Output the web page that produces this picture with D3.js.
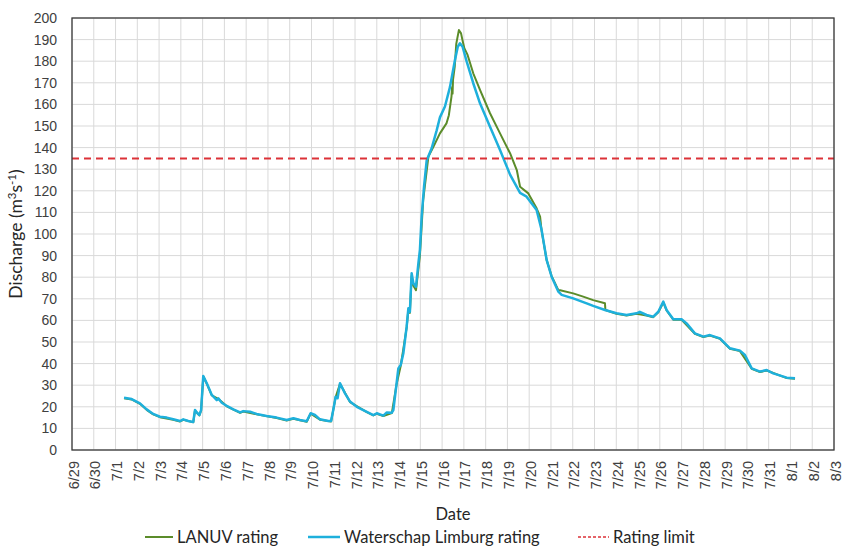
<!DOCTYPE html>
<html>
<head>
<meta charset="utf-8">
<script src="https://cdn.jsdelivr.net/npm/d3@7"></script>
<style>
  body { margin: 0; background: #fff; }
  svg { font-family: Lato, "Open Sans", sans-serif; }
  .grid line { stroke: #d9d9d9; stroke-width: 1; }
  .tick text { fill: #404040; }
</style>
</head>
<body>
<div id="chart"></div>
<script>
// [day of July (fractional), discharge m3/s]
const waterschap = [
  [1.39, 24.2], [1.74, 23.6], [2.12, 21.6], [2.43, 18.8], [2.73, 16.7], [3.04, 15.4],
  [3.35, 15.0], [3.65, 14.2], [3.96, 13.4], [4.11, 14.2], [4.34, 13.4], [4.57, 13.0],
  [4.65, 18.5], [4.76, 17.0], [4.85, 16.2], [4.93, 18.5], [5.03, 34.3], [5.19, 30.9],
  [5.42, 25.5], [5.65, 23.1], [5.72, 23.9], [5.88, 21.9], [6.11, 20.4], [6.41, 18.8],
  [6.72, 17.4], [6.87, 18.0], [7.18, 17.7], [7.48, 16.7], [7.94, 15.7], [8.40, 15.0],
  [8.86, 13.9], [9.17, 14.7], [9.47, 13.9], [9.78, 13.3], [9.96, 17.0], [10.16, 16.2],
  [10.39, 14.2], [10.77, 13.4], [10.90, 13.4], [11.0, 18.5], [11.11, 24.7], [11.20, 24.0],
  [11.31, 30.9], [11.54, 26.2], [11.77, 22.4], [12.08, 20.0], [12.54, 17.7], [12.84, 16.2],
  [13.0, 17.0], [13.30, 15.9], [13.46, 17.4], [13.69, 17.3], [13.76, 18.5], [13.91, 30.9],
  [13.99, 37.8], [14.10, 39.4], [14.22, 44.8], [14.37, 57.0], [14.45, 65.6], [14.52, 64.0],
  [14.60, 81.8], [14.68, 77.2], [14.80, 75.6], [14.91, 86.4], [14.98, 92.6], [15.06, 108],
  [15.17, 121.9], [15.29, 134], [15.52, 139.7], [15.75, 148], [15.90, 154], [16.13, 159],
  [16.36, 168], [16.59, 180.6], [16.72, 186.7], [16.82, 188.3], [16.94, 186.7], [17.13, 179.8],
  [17.43, 169.8], [17.74, 160.5], [18.20, 149.7], [18.66, 138.9], [19.12, 127.5], [19.58, 119],
  [19.88, 117.3], [20.34, 111.1], [20.57, 101.9], [20.80, 88], [21.03, 80.2], [21.34, 73.3],
  [21.49, 71.8], [22.02, 70.2], [22.64, 67.9], [22.94, 66.7], [23.48, 64.8], [24.01, 63.3],
  [24.47, 62.5], [24.93, 63.3], [25.08, 64.0], [25.39, 62.5], [25.70, 61.7], [25.93, 64.0],
  [26.16, 68.7], [26.31, 64.8], [26.62, 60.5], [27.00, 60.5], [27.23, 58.6], [27.61, 54.0],
  [28.00, 52.5], [28.30, 53.2], [28.76, 51.7], [29.22, 47.1], [29.68, 46.0], [29.91, 44.0],
  [30.22, 37.8], [30.60, 36.3], [30.91, 37.0], [31.21, 35.5], [31.83, 33.5], [32.21, 33.2]
];

const lanuv = [
  [1.39, 24.0], [1.74, 23.4], [2.12, 21.4], [2.43, 18.6], [2.73, 16.5], [3.04, 15.2],
  [3.65, 14.0], [3.96, 13.2], [4.11, 14.0], [4.57, 12.8], [4.65, 18.3], [4.85, 16.0],
  [4.93, 18.3], [5.03, 34.0], [5.19, 30.7], [5.42, 25.3], [5.72, 23.7], [6.11, 20.2],
  [6.72, 17.2], [6.87, 17.8], [7.48, 16.5], [8.40, 14.8], [8.86, 13.7], [9.17, 14.5],
  [9.78, 13.1], [9.96, 16.8], [10.39, 14.0], [10.90, 13.2], [11.11, 24.5], [11.31, 30.7],
  [11.77, 22.2], [12.54, 17.5], [12.84, 16.0], [13.0, 16.8], [13.30, 15.7], [13.69, 17.1],
  [13.91, 30.5], [14.10, 39.0], [14.37, 56.5], [14.45, 65.0], [14.52, 63.5], [14.60, 80.5],
  [14.68, 76.0], [14.80, 74.0], [14.98, 90], [15.13, 115.7], [15.37, 135.8], [15.60, 140.4],
  [15.90, 146.6], [16.20, 151.2], [16.31, 155], [16.43, 163.6], [16.46, 168], [16.48, 165],
  [16.50, 171.3], [16.58, 177.5], [16.65, 188], [16.77, 194.4], [16.87, 192.9], [16.93, 190],
  [17.02, 186], [17.17, 182.9], [17.43, 174.4], [17.74, 166.7], [18.20, 155.9], [18.66, 146.6],
  [19.12, 137.4], [19.43, 129.6], [19.58, 121.9], [19.96, 118.8], [20.34, 111.9], [20.50, 108],
  [20.57, 101.5], [20.80, 88], [21.03, 80.5], [21.34, 74.0], [21.42, 74.0], [22.02, 72.5],
  [22.48, 71.0], [22.94, 69.4], [23.48, 67.9], [23.50, 64.8], [24.01, 63.1], [24.47, 62.3],
  [24.93, 63.1], [25.39, 62.3], [25.70, 61.5], [25.93, 63.8], [26.16, 68.3], [26.31, 64.6],
  [26.62, 60.3], [27.00, 60.3], [27.61, 53.8], [28.00, 52.3], [28.30, 53.0], [28.76, 51.5],
  [29.22, 46.9], [29.68, 45.8], [30.22, 37.6], [30.60, 36.1], [30.91, 36.8], [31.83, 33.3],
  [32.21, 33.0]
];

const ratingLimit = 135;
const yTicks = d3.range(0, 201, 10);
const seriesNames = ['LANUV rating', 'Waterschap Limburg rating', 'Rating limit'];

const width = 843, height = 549;
const margin = { top: 18, right: 9, bottom: 99, left: 72 };
const chartWidth = width - margin.left - margin.right;
const chartHeight = height - margin.top - margin.bottom;

const julyStart = new Date(2021, 6, 1).getTime();
function toDate(d) { return new Date(julyStart + (d - 1) * 864e5); }

const x = d3.scaleTime()
  .domain([new Date(2021, 5, 29), new Date(2021, 7, 3)])
  .range([0, chartWidth]);
const y = d3.scaleLinear().domain([0, 200]).range([chartHeight, 0]);

const svg = d3.select('#chart').append('svg')
  .attr('width', width)
  .attr('height', height);

const chartArea = svg.append('g')
  .attr('transform', 'translate(' + margin.left + ',' + margin.top + ')');

const days = d3.timeDay.range(x.domain()[0], d3.timeDay.offset(x.domain()[1], 1));

// grid
const grid = chartArea.append('g').attr('class', 'grid');
grid.selectAll('line.h').data(yTicks).enter().append('line')
  .attr('x1', 0).attr('x2', chartWidth)
  .attr('y1', d => y(d)).attr('y2', d => y(d));
grid.selectAll('line.v').data(days).enter().append('line')
  .attr('x1', d => x(d)).attr('x2', d => x(d))
  .attr('y1', 0).attr('y2', chartHeight);

// axes (labels only)
const yAxis = chartArea.append('g')
  .call(d3.axisLeft(y).tickValues(yTicks).tickSize(0).tickPadding(15));
yAxis.select('.domain').remove();
yAxis.selectAll('text').style('font-size', '14px');

const fmt = d => (d.getMonth() + 1) + '/' + d.getDate();
const xAxis = chartArea.append('g')
  .attr('transform', 'translate(0,' + chartHeight + ')')
  .call(d3.axisBottom(x).tickValues(days).tickFormat(fmt).tickSize(0));
xAxis.select('.domain').remove();
xAxis.selectAll('text')
  .style('font-size', '14.5px')
  .style('text-anchor', 'end')
  .attr('x', -11)
  .attr('y', 1)
  .attr('dy', '0.35em')
  .attr('transform', 'rotate(-90)');

// lines
const line = d3.line()
  .x(d => x(toDate(d[0])))
  .y(d => y(d[1]));

chartArea.append('path')
  .datum(lanuv)
  .attr('fill', 'none')
  .attr('stroke', '#5b8c2a')
  .attr('stroke-width', 2)
  .attr('stroke-linejoin', 'round')
  .attr('d', line);

chartArea.append('path')
  .datum(waterschap)
  .attr('fill', 'none')
  .attr('stroke', '#1eb0dc')
  .attr('stroke-width', 2.5)
  .attr('stroke-linejoin', 'round')
  .attr('d', line);

chartArea.append('line')
  .attr('x1', 0).attr('x2', chartWidth)
  .attr('y1', y(ratingLimit)).attr('y2', y(ratingLimit))
  .attr('stroke', '#dc3238')
  .attr('stroke-width', 2)
  .attr('stroke-dasharray', '7,5');

// frame
chartArea.append('rect')
  .attr('width', chartWidth).attr('height', chartHeight)
  .attr('fill', 'none')
  .attr('stroke', '#3a3a3a')
  .attr('stroke-width', 1.3);

// axis titles
chartArea.append('text')
  .attr('transform', 'rotate(-90)')
  .attr('x', -chartHeight / 2)
  .attr('y', -50)
  .style('text-anchor', 'middle')
  .style('font-size', '17.5px')
  .style('fill', '#262626')
  .html('Discharge (m<tspan baseline-shift="super" font-size="11.5px">3</tspan>s<tspan baseline-shift="super" font-size="11.5px">-1</tspan>)');

chartArea.append('text')
  .attr('x', chartWidth / 2)
  .attr('y', 520 - margin.top)
  .style('text-anchor', 'middle')
  .style('font-size', '16.5px')
  .style('fill', '#262626')
  .text('Date');

// legend
const legendItems = [
  { name: seriesNames[0], x: 145, color: '#5b8c2a', w: 2, dash: null, len: 28 },
  { name: seriesNames[1], x: 308, color: '#1eb0dc', w: 2.5, dash: null, len: 32 },
  { name: seriesNames[2], x: 578, color: '#dc3238', w: 1.3, dash: '3,2', len: 31 }
];
const legend = svg.append('g').attr('transform', 'translate(0,537)');
const li = legend.selectAll('g').data(legendItems).enter().append('g')
  .attr('transform', d => 'translate(' + d.x + ',0)');
li.append('line')
  .attr('x1', 0).attr('x2', d => d.len)
  .attr('stroke', d => d.color)
  .attr('stroke-width', d => d.w)
  .attr('stroke-dasharray', d => d.dash);
li.append('text')
  .attr('x', d => d.len + 4)
  .attr('dy', '0.35em')
  .style('font-size', '16.5px')
  .style('fill', '#262626')
  .text(d => d.name);
</script>
</body>
</html>
